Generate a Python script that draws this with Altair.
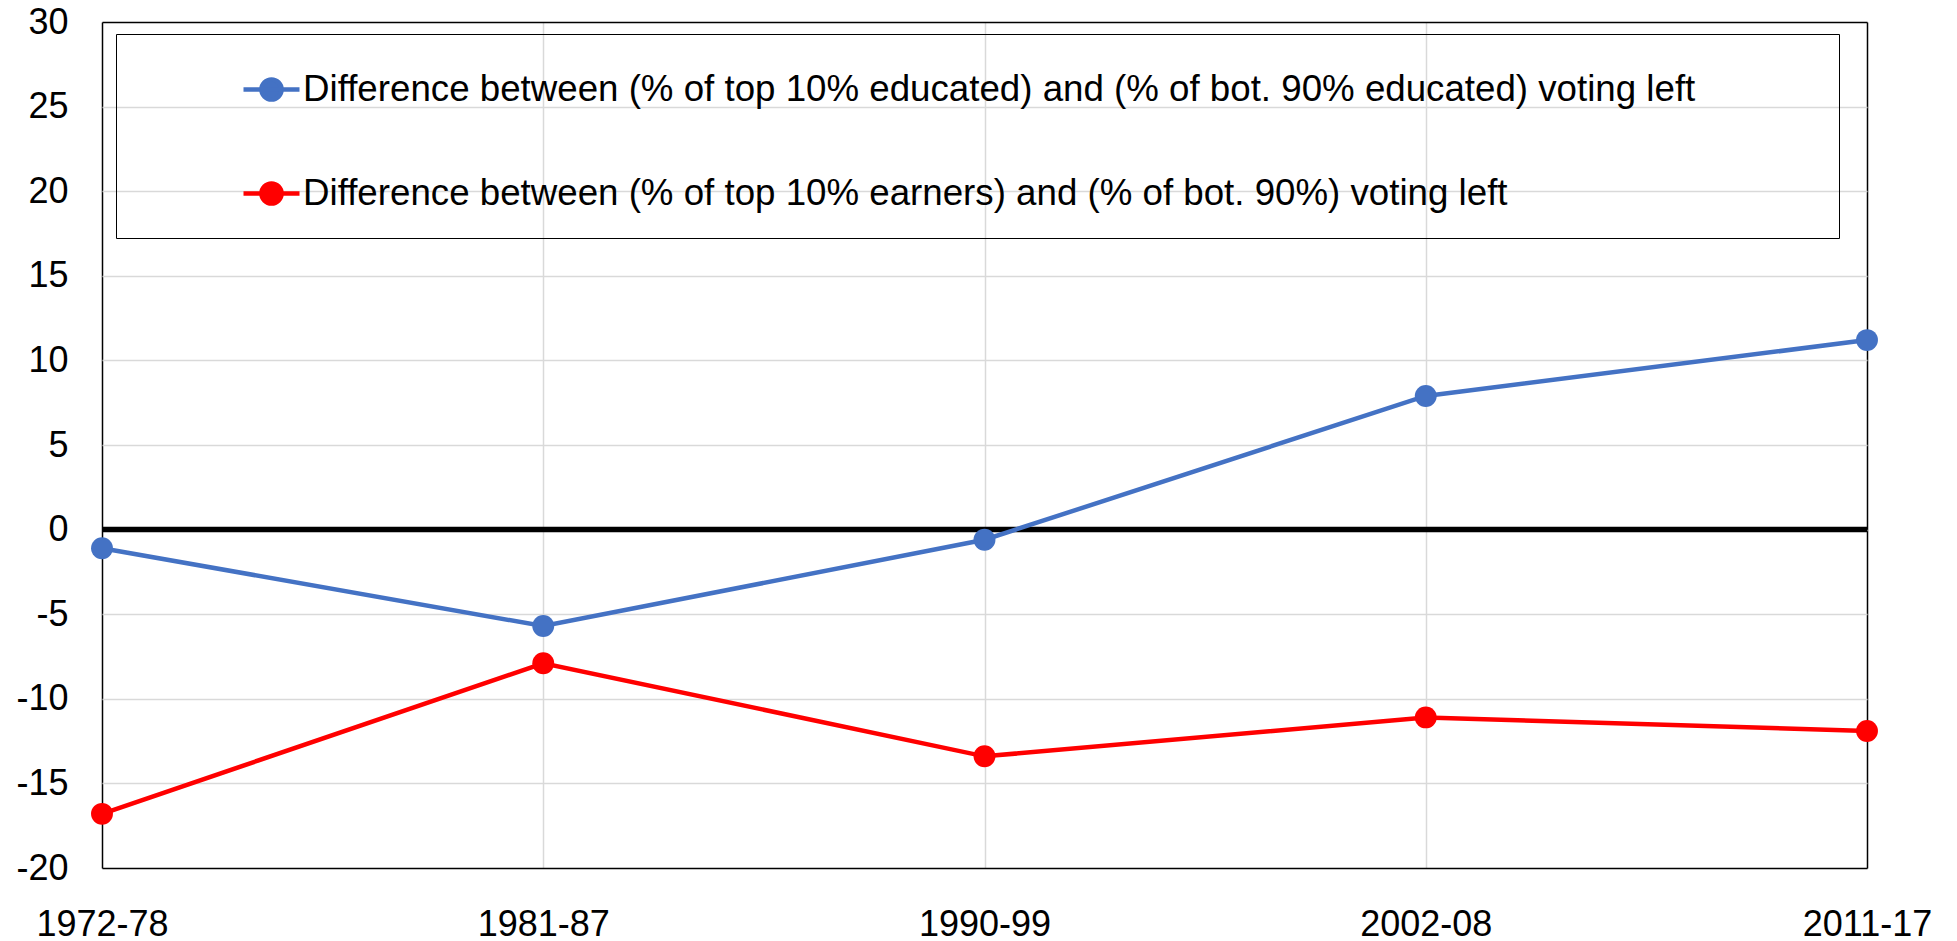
import altair as alt
import pandas as pd

periods = ["1972-78", "1981-87", "1990-99", "2002-08", "2011-17"]
educated_gap = [-1.1, -5.7, -0.6, 7.9, 11.2]
earners_gap = [-16.8, -7.9, -13.4, -11.1, -11.9]
series_names = [
    "Difference between (% of top 10% educated) and (% of bot. 90% educated) voting left",
    "Difference between (% of top 10% earners) and (% of bot. 90%) voting left",
]
series_colors = ["#4472C4", "#FF0000"]
y_ticks = [-20, -15, -10, -5, 0, 5, 10, 15, 20, 25, 30]
zero_line = [0]

rows = []
for name, vals in zip(series_names, [educated_gap, earners_gap]):
    for p, v in zip(periods, vals):
        rows.append({"period": p, "value": v, "series": name})
df = pd.DataFrame(rows)
zero_df = pd.DataFrame({"value": zero_line})

FONT = "Liberation Sans"
legend_symbol = "M-1,0L1,0M0.36,0A0.36,0.36,0,1,1,-0.36,0A0.36,0.36,0,1,1,0.36,0Z"

x_edge = "datum.value === '%s' || datum.value === '%s'" % (periods[0], periods[-1])
y_edge = "datum.value === %d || datum.value === %d" % (y_ticks[0], y_ticks[-1])

x_enc = alt.X(
    "period:N",
    sort=periods,
    scale=alt.Scale(type="point", padding=0, domain=periods),
    axis=alt.Axis(title=None, labelAngle=0, labelPadding=39, ticks=False, domain=False,
                  grid=True, labelFontSize=36, labelFont=FONT, labelColor="black",
                  gridColor={"condition": {"test": x_edge, "value": "black"}, "value": "#d9d9d9"}),
)
y_enc = alt.Y(
    "value:Q",
    scale=alt.Scale(domain=[-20, 30], nice=False, zero=False),
    axis=alt.Axis(values=y_ticks, title=None, ticks=False, domain=False, labelPadding=34,
                  labelFontSize=36, labelFont=FONT, labelColor="black", grid=True,
                  labelExpr="datum.value + ''",
                  gridColor={"condition": {"test": y_edge, "value": "black"}, "value": "#d9d9d9"}),
)


def make_legend():
    return alt.Legend(
        title=" ",
        titleOrient="right",
        titleFontSize=1,
        titlePadding=119,
        orient="none",
        legendX=14,
        legendY=12,
        strokeColor="black",
        padding=25,
        rowPadding=54,
        symbolType=legend_symbol,
        symbolSize=3136,
        symbolStrokeWidth=4.5,
        symbolOpacity=1,
        symbolOffset=100,
        labelFontSize=36.7,
        labelFont=FONT,
        labelColor="black",
        labelOffset=1,
        labelLimit=3000,
    )


fill_enc = alt.Fill(
    "series:N",
    sort=series_names,
    scale=alt.Scale(domain=series_names, range=series_colors),
    legend=make_legend(),
)
stroke_enc = alt.Stroke(
    "series:N",
    sort=series_names,
    scale=alt.Scale(domain=series_names, range=series_colors),
    legend=make_legend(),
)

lines = alt.Chart(df).mark_line(strokeWidth=4.5).encode(x=x_enc, y=y_enc, stroke=stroke_enc, detail="series:N")
points = alt.Chart(df).mark_circle(size=480, opacity=1).encode(x=x_enc, y=y_enc, fill=fill_enc)
zero = alt.Chart(zero_df).mark_rule(color="black", strokeWidth=5.5).encode(y=y_enc)

chart = alt.layer(zero, lines, points).properties(
    width=1765,
    height=846,
    autosize=alt.AutoSizeParams(type="none"),
    padding={"left": 94, "top": 14, "right": 82, "bottom": 75},
    background="white",
).configure_view(
    stroke=None
).configure_axis(
    gridWidth=1.5
)

chart.save("out.html", embed_options={"renderer": "svg", "actions": False})
